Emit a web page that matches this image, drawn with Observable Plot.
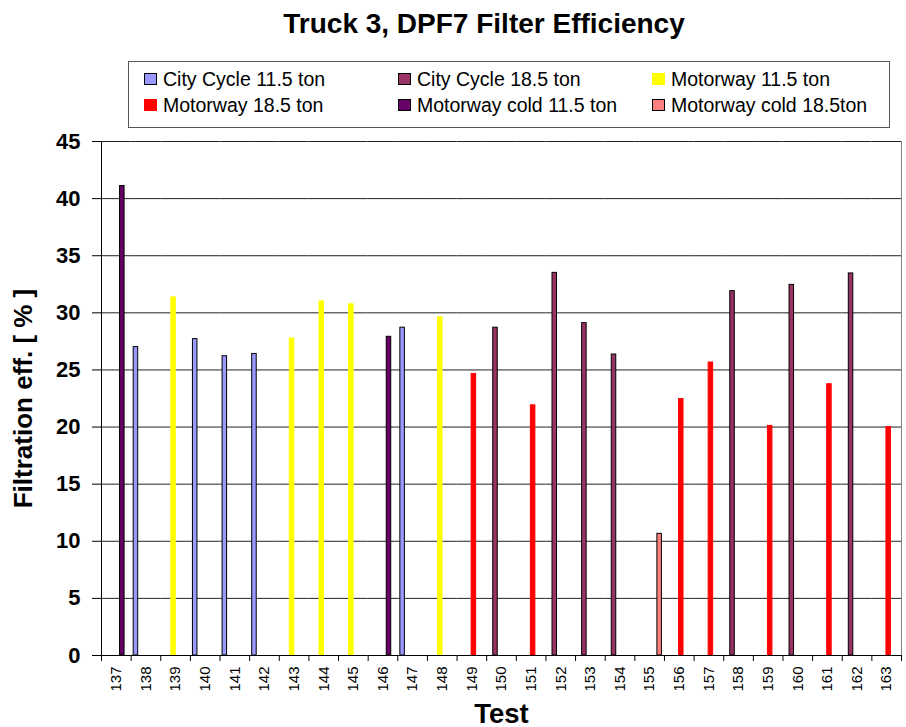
<!DOCTYPE html>
<html><head><meta charset="utf-8">
<script src="https://cdn.jsdelivr.net/npm/d3@7"></script>
<script src="https://cdn.jsdelivr.net/npm/@observablehq/plot@0.6"></script>
<style>
body{margin:0;background:#fff;font-family:"Liberation Sans",Arial,sans-serif;color:#000;}
#wrap{position:relative;width:906px;height:727px;overflow:hidden;}
#title{position:absolute;top:10px;left:484px;transform:translateX(-50%);font-size:28px;font-weight:bold;line-height:1;white-space:nowrap;}
#legend{position:absolute;left:128px;top:61px;width:762px;height:67px;box-sizing:border-box;border:1px solid #555;background:#fff;}
.item{position:absolute;display:flex;align-items:center;height:20px;font-size:19.5px;line-height:20px;white-space:nowrap;}
.sw{width:13px;height:12px;box-sizing:border-box;margin-right:6px;flex:none;}
#chart{position:absolute;left:0;top:130px;}
</style></head><body>
<div id="wrap"><div id="title"></div><div id="legend"></div><div id="chart"></div></div>
<script>
const title = "Truck 3, DPF7 Filter Efficiency";
const series = ["City Cycle 11.5 ton","City Cycle 18.5 ton","Motorway 11.5 ton","Motorway 18.5 ton","Motorway cold 11.5 ton","Motorway cold 18.5ton"];
const colors = ["#9999FF","#993366","#FFFF00","#FF0000","#660066","#FF8080"];
const bordered = [true,true,false,false,true,true];
const tests = [137,138,139,140,141,142,143,144,145,146,147,148,149,150,151,152,153,154,155,156,157,158,159,160,161,162,163];
const seriesIdx = [4,0,2,0,0,0,2,2,2,4,0,2,3,1,3,1,1,1,5,3,3,1,3,1,3,1,3];
const values = [41.1,27.0,31.35,27.7,26.2,26.4,27.75,31.0,30.75,27.9,28.7,29.6,24.65,28.7,21.9,33.5,29.1,26.35,10.65,22.45,25.65,31.9,20.1,32.45,23.75,33.45,20.0];
const yTicks = [0,5,10,15,20,25,30,35,40,45];
const yLabel = "Filtration eff. [ % ]";
const xLabel = "Test";

d3.select("#title").text(title);
const lg = d3.select("#legend");
series.forEach((s,i)=>{
  const col = i%3, row = Math.floor(i/3);
  const it = lg.append("div").attr("class","item")
    .style("left",(15+col*254)+"px").style("top",(7+row*25.5)+"px");
  it.append("div").attr("class","sw").style("background",colors[i])
    .style("border",bordered[i]?"1px solid #000":"none");
  it.append("span").text(s);
});

const W=906,H=597,ML=101,MR=5,MT=11,MB=72,PO=0.7;
const data = tests.map((t,i)=>({test:t, series:series[seriesIdx[i]], value:values[i]}));
const bw=(W-ML-MR)/tests.length, step=bw/(series.length+2*PO), edge=PO*step+step/2;
const bset = new Set(series.filter((s,i)=>bordered[i]));

const chart = Plot.plot({
  width:W, height:H, marginLeft:ML, marginRight:MR, marginTop:MT, marginBottom:MB,
  style:{fontFamily:"Liberation Sans, Arial, sans-serif", color:"#000", background:"#fff", overflow:"visible"},
  fx:{domain:tests, padding:0, round:false, axis:null},
  x:{domain:series, paddingInner:0, paddingOuter:PO, round:false, axis:null},
  y:{domain:[0,45], axis:null},
  color:{domain:series, range:colors},
  marks:[
    Plot.gridY(yTicks.filter(v=>v>0), {stroke:"#222", strokeOpacity:1}),
    Plot.barY(data.filter(d=>!bset.has(d.series)), {fx:"test", x:"series", y:"value", fill:"series", stroke:"series", strokeWidth:1, insetLeft:-0.25, insetRight:-0.25}),
    Plot.barY(data.filter(d=>bset.has(d.series)), {fx:"test", x:"series", y:"value", fill:"series", stroke:"#000", strokeWidth:1, insetLeft:-0.25, insetRight:-0.25}),
    Plot.ruleY([0], {stroke:"#000"}),
    Plot.ruleX(tests, {fx:d=>d, x:()=>series[0], y1:0, y2:0, insetBottom:-6, dx:-edge, stroke:"#000"}),
    Plot.ruleX(tests.slice(-1), {fx:d=>d, x:()=>series[series.length-1], y1:0, y2:0, insetBottom:-6, dx:edge, stroke:"#000"}),
    Plot.ruleX([series[0]], {x:d=>d, y1:0, y2:45, dx:-edge, facetAnchor:"left", stroke:"#000"}),
    Plot.ruleX([series[series.length-1]], {x:d=>d, y1:0, y2:45, dx:edge, facetAnchor:"right", stroke:"#808080"}),
    Plot.axisY({ticks:yTicks, tickSize:9, tickPadding:12, fontSize:22, fontWeight:"bold", label:null}),
    Plot.axisY({ticks:[], label:yLabel, labelAnchor:"center", labelArrow:false, labelOffset:88, fontSize:26, fontWeight:"bold", tickSize:0}),
    Plot.axisFx({anchor:"bottom", tickRotate:-90, tickSize:0, tickPadding:11, fontSize:15, label:null}),
    Plot.axisFx({anchor:"bottom", ticks:[], label:xLabel, labelAnchor:"center", labelArrow:false, labelOffset:67, fontSize:27.5, fontWeight:"bold", tickSize:0})
  ]
});
document.getElementById("chart").appendChild(chart);
</script>
</body></html>
